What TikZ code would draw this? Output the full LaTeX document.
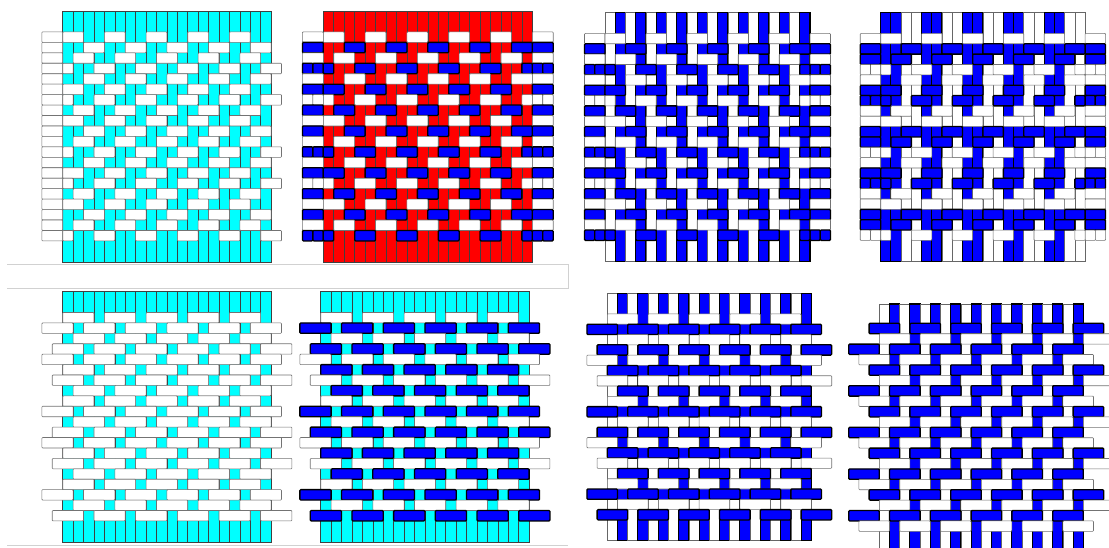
\documentclass[tikz,border=0pt]{standalone}
\usetikzlibrary{calc}

\definecolor{aqua}{RGB}{0,255,255}
\definecolor{pureblue}{RGB}{0,0,255}
\definecolor{purered}{RGB}{255,0,0}

\tikzset{
  warpline/.style={draw=black!75, line width=0.6pt},
  warpb/.style={draw=black, fill=pureblue, line width=1.1pt},
  warpw/.style={draw=black!60, fill=white, line width=0.6pt},
  weftw/.style={draw=black!55, fill=white, line width=0.6pt, rounded corners=0.8pt},
  weftb/.style={draw=black, fill=pureblue, line width=1.3pt, rounded corners=1pt},
  sepline/.style={draw=black!18, line width=0.8pt},
}

% 2/2 floats of one weft row: x0, y, w, h, shift, style
\newcommand{\twillrow}[6]{%
  \foreach \k in {-1,...,19}{%
    \pgfmathtruncatemacro{\md}{mod(\k+#5+8,4)}%
    \ifnum\md=0
      \pgfmathsetmacro{\xa}{#1+max(\k,0)*#3}%
      \pgfmathsetmacro{\xb}{#1+(min(\k+1,19)+1)*#3}%
      \draw[#6] (\xa,#2) rectangle (\xb,#2+#4);
    \fi}}

% 3/1 floats of one weft row: x0, y, w, h, under, style, first col, last col
\newcommand{\brickrow}[8]{%
  \foreach \k in {-6,...,22}{%
    \pgfmathtruncatemacro{\ok}{(mod(\k-#5+12,4)==0)&&(\k+1>=#7)&&(\k+3<=#8)}%
    \ifnum\ok=1
      \pgfmathsetmacro{\xa}{#1+(\k+1)*#3}%
      \pgfmathsetmacro{\xb}{#1+(\k+4)*#3}%
      \draw[#6] (\xa,#2) rectangle (\xb,#2+#4);
    \fi}}

% side loops of a 2/2 row: x0, y, w, h, shift, style
\newcommand{\sideloops}[6]{%
  \ifnum#5=1
    \foreach \e in {-2,-1,20,21}
      \draw[#6] ({#1+\e*#3},#2) rectangle ++(#3,#4);
  \else
    \draw[#6] ({#1-2*#3},#2) rectangle ++(2*#3,#4);
    \draw[#6] ({#1+20*#3},#2) rectangle ++(2*#3,#4);
  \fi}

\begin{document}
\begin{tikzpicture}[x=1pt, y=-1pt]
  \clip (0,0) rectangle (1109,547);
  \fill[white] (0,0) rectangle (1109,547);

  % Separators
  \draw[sepline] (7,264) -- (568,264) -- (568,288) -- (7,288);
  \draw[sepline] (7,545) -- (568,545);

  % Panel 1: cyan warp, white weft
  \foreach \c in {0,...,19}
    \draw[warpline, fill=aqua] ({62.7+\c*10.42},11) rectangle ++(10.42,250.8);
  \foreach \r in {0,...,19}{
    \pgfmathtruncatemacro{\sh}{{0,2,3,1,2,0,1,3}[mod(\r,8)]}
    \pgfmathsetmacro{\yr}{31.9+\r*10.45}
    \draw[weftw] (41.86,\yr) rectangle ++(20.84,10.45);
    \twillrow{62.7}{\yr}{10.42}{10.45}{\sh}{weftw}
    \ifnum\sh=1 \draw[weftw] (260.7,\yr) rectangle ++(20.84,10.45); \fi
  }

  % Panel 2: red warp, white and blue weft
  \foreach \c in {0,...,19}
    \draw[warpline, fill=purered] ({323.3+\c*10.45},11) rectangle ++(10.45,250.8);
  \foreach \r in {0,...,19}{
    \pgfmathtruncatemacro{\sh}{{0,2,3,1,2,0,1,3}[mod(\r,8)]}
    \pgfmathsetmacro{\yr}{31.9+\r*10.45}
    \ifodd\r
      \sideloops{323.3}{\yr}{10.45}{10.45}{\sh}{weftb}
      \twillrow{323.3}{\yr}{10.45}{10.45}{\sh}{weftb}
    \else
      \sideloops{323.3}{\yr}{10.45}{10.45}{\sh}{weftw}
      \twillrow{323.3}{\yr}{10.45}{10.45}{\sh}{weftw}
    \fi
  }

  % Panel 3: alternate warp, alternate weft
  \foreach \c in {0,...,19}{
    \ifodd\c
      \draw[warpb] ({605+\c*10.25},12.7) rectangle ++(10.25,248.4);
    \else
      \draw[warpw] ({605+\c*10.25},12.7) rectangle ++(10.25,248.4);
    \fi
  }
  \foreach \r in {0,...,19}{
    \pgfmathtruncatemacro{\sh}{{0,2,3,1,2,0,1,3}[mod(\r,8)]}
    \pgfmathsetmacro{\yr}{33.4+\r*10.35}
    \ifodd\r
      \sideloops{605}{\yr}{10.25}{10.35}{\sh}{weftb}
      \twillrow{605}{\yr}{10.25}{10.35}{\sh}{weftb}
    \else
      \sideloops{605}{\yr}{10.25}{10.35}{\sh}{weftw}
      \twillrow{605}{\yr}{10.25}{10.35}{\sh}{weftw}
    \fi
  }

  % Panel 4: warp and weft in pairs
  \foreach \c in {0,...,19}{
    \pgfmathtruncatemacro{\bl}{mod(\c,4)<2}
    \ifnum\bl=1
      \draw[warpb] ({880.7+\c*10.22},12.7) rectangle ++(10.22,248.4);
    \else
      \draw[warpw] ({880.7+\c*10.22},12.7) rectangle ++(10.22,248.4);
    \fi
  }
  \foreach \r in {0,...,19}{
    \pgfmathtruncatemacro{\sh}{{0,2,3,1,2,0,1,3}[mod(\r,8)]}
    \pgfmathtruncatemacro{\bl}{mod(\r+1,4)>1}
    \pgfmathsetmacro{\yr}{33.4+\r*10.35}
    \ifnum\bl=1
      \sideloops{880.7}{\yr}{10.22}{10.35}{\sh}{weftb}
      \twillrow{880.7}{\yr}{10.22}{10.35}{\sh}{weftb}
    \else
      \sideloops{880.7}{\yr}{10.22}{10.35}{\sh}{weftw}
      \twillrow{880.7}{\yr}{10.22}{10.35}{\sh}{weftw}
    \fi
  }

  % Panel 5: cyan warp, white weft, 3/1
  \foreach \c in {0,...,19}
    \draw[warpline, fill=aqua] ({62.7+\c*10.42},291.7) rectangle ++(10.42,250.1);
  \foreach \r in {0,...,19}{
    \pgfmathtruncatemacro{\un}{{3,1,0,2,1,3,2,0}[mod(\r,8)]}
    \pgfmathsetmacro{\yr}{312.5+\r*10.42}
    \brickrow{62.7}{\yr}{10.42}{10.42}{\un}{weftw}{-2}{21}
  }

  % Panel 6: cyan warp, white and blue weft, 3/1
  \foreach \c in {0,...,19}
    \draw[warpline, fill=aqua] ({320.7+\c*10.42},291.7) rectangle ++(10.42,250.1);
  \foreach \r in {0,...,19}{
    \pgfmathtruncatemacro{\un}{{3,1,0,2,1,3,2,0}[mod(\r,8)]}
    \pgfmathsetmacro{\yr}{312.5+\r*10.42}
    \ifodd\r
      \brickrow{320.7}{\yr}{10.42}{10.42}{\un}{weftb}{-2}{21}
    \else
      \brickrow{320.7}{\yr}{10.42}{10.42}{\un}{weftw}{-2}{21}
    \fi
  }

  % Panel 7: alternate warp and weft, 3/1
  \foreach \c in {0,...,19}{
    \ifodd\c
      \draw[warpb] ({607.3+\c*10.2},293.3) rectangle ++(10.2,247.2);
    \else
      \draw[warpw] ({607.3+\c*10.2},293.3) rectangle ++(10.2,247.2);
    \fi
  }
  \foreach \r in {0,...,19}{
    \pgfmathtruncatemacro{\un}{{3,1,0,2,1,3,2,0}[mod(\r,8)]}
    \pgfmathsetmacro{\yr}{313.9+\r*10.3}
    \ifodd\r
      \brickrow{607.3}{\yr}{10.2}{10.3}{\un}{weftb}{-2}{21}
    \else
      \brickrow{607.3}{\yr}{10.2}{10.3}{\un}{weftw}{-2}{21}
    \fi
  }

  % Panel 8: alternate warp and weft, straight 3/1 twill
  \foreach \c in {0,...,19}{
    \ifodd\c
      \draw[warpb] ({879.3+\c*10.2},304) rectangle ++(10.2,250);
    \else
      \draw[warpw] ({879.3+\c*10.2},304) rectangle ++(10.2,250);
    \fi
  }
  \foreach \r in {0,...,19}{
    \pgfmathtruncatemacro{\un}{mod(2+\r,4)}
    \pgfmathsetmacro{\yr}{323.3+\r*10.4}
    \ifodd\r
      \brickrow{879.3}{\yr}{10.2}{10.4}{\un}{weftw}{-3}{22}
    \else
      \brickrow{879.3}{\yr}{10.2}{10.4}{\un}{weftb}{-3}{22}
    \fi
  }
\end{tikzpicture}
\end{document}
